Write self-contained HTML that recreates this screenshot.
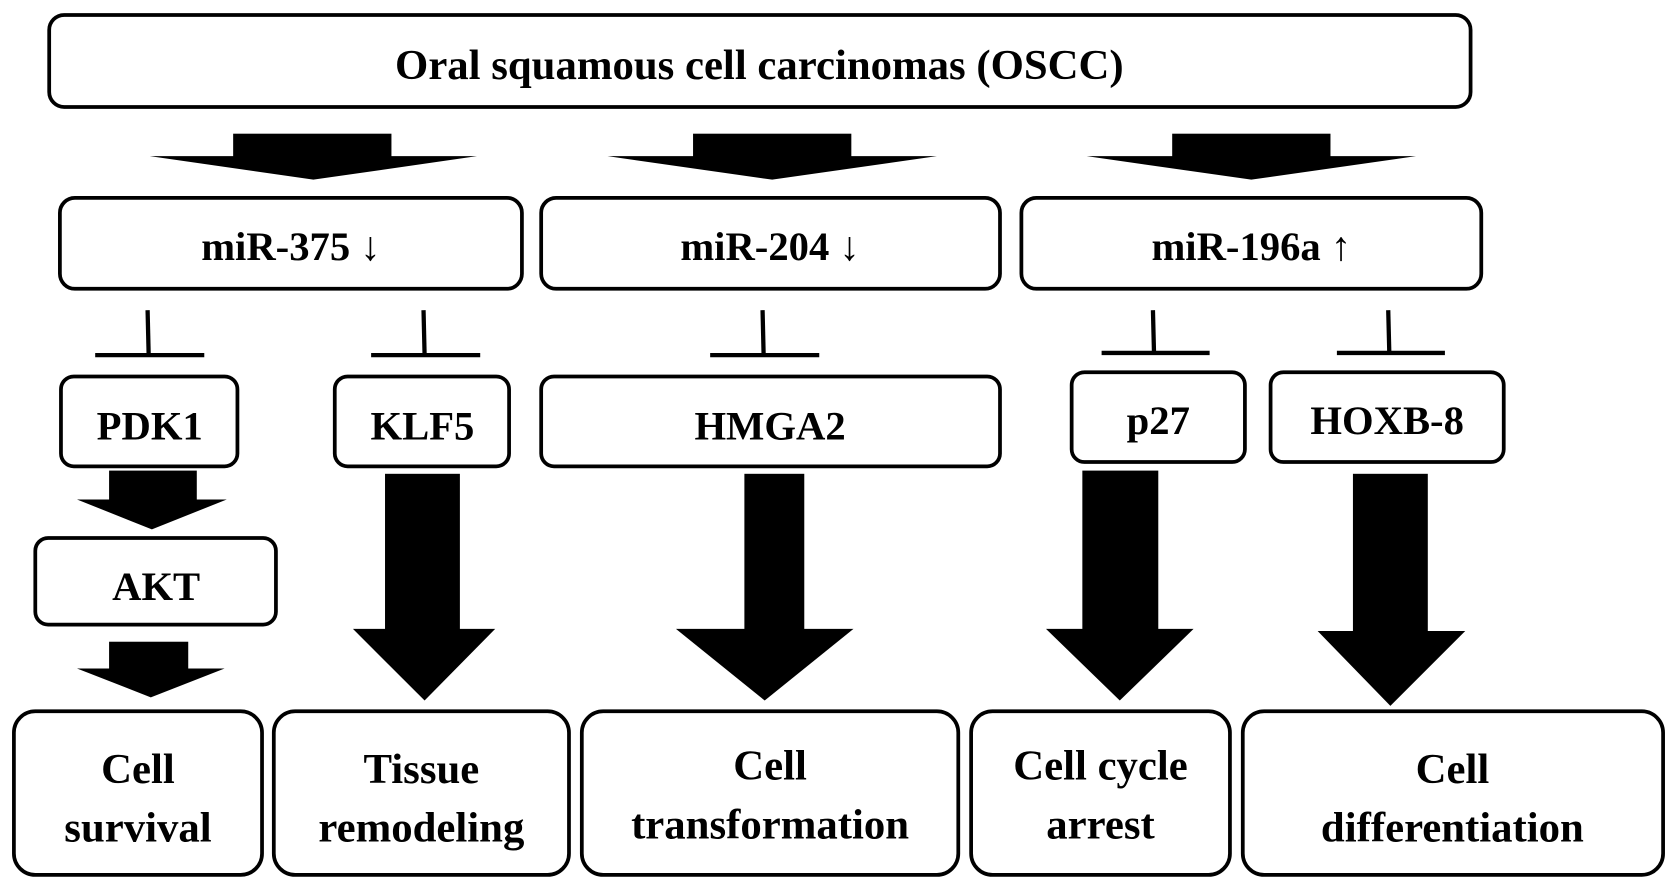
<!DOCTYPE html>
<html><head><meta charset="utf-8"><style>
html,body{margin:0;padding:0;background:#fff;width:1677px;height:892px;overflow:hidden}
svg{display:block}
text{font-family:"Liberation Serif",serif;font-weight:bold;fill:#000;text-anchor:middle}
.b{fill:#fff;stroke:#000;stroke-width:3.5}
</style></head><body>
<svg width="1677" height="892" viewBox="0 0 1568 834" preserveAspectRatio="none">
<rect class="b" x="46" y="14" width="1329" height="86" rx="14"/>
<text x="710" y="74" font-size="40">Oral squamous cell carcinomas (OSCC)</text>
<!-- top arrows -->
<g fill="#000">
<rect x="218" y="125" width="148" height="22"/><polygon points="140,146 446,146 293,168"/>
<rect x="648" y="125" width="148" height="22"/><polygon points="568,146 876,146 722,168"/>
<rect x="1096" y="125" width="148" height="22"/><polygon points="1016,146 1324,146 1170,168"/>
</g>
<rect class="b" x="56" y="185" width="432" height="85" rx="14"/>
<rect class="b" x="506" y="185" width="429" height="85" rx="14"/>
<rect class="b" x="955" y="185" width="430" height="85" rx="14"/>
<text x="272" y="243" font-size="38">miR-375 <tspan font-weight="normal">↓</tspan></text>
<text x="720" y="243" font-size="38">miR-204 <tspan font-weight="normal">↓</tspan></text>
<text x="1170" y="243" font-size="38">miR-196a <tspan font-weight="normal">↑</tspan></text>
<!-- inhibitors -->
<g stroke="#000" stroke-width="4">
<line x1="138" y1="290" x2="139" y2="332"/><line x1="89" y1="332" x2="191" y2="332"/>
<line x1="396" y1="290" x2="397" y2="332"/><line x1="347" y1="332" x2="449" y2="332"/>
<line x1="713" y1="290" x2="714" y2="332"/><line x1="664" y1="332" x2="766" y2="332"/>
<line x1="1078" y1="290" x2="1079" y2="330"/><line x1="1030" y1="330" x2="1131" y2="330"/>
<line x1="1298" y1="290" x2="1299" y2="330"/><line x1="1250" y1="330" x2="1351" y2="330"/>
</g>
<rect class="b" x="57" y="352" width="165" height="84" rx="12"/>
<rect class="b" x="313" y="352" width="163" height="84" rx="12"/>
<rect class="b" x="506" y="352" width="429" height="84" rx="12"/>
<rect class="b" x="1002" y="348" width="162" height="84" rx="12"/>
<rect class="b" x="1188" y="348" width="218" height="84" rx="12"/>
<text x="140" y="411" font-size="38">PDK1</text>
<text x="395" y="411" font-size="38">KLF5</text>
<text x="720" y="411" font-size="38">HMGA2</text>
<text x="1083" y="406" font-size="38">p27</text>
<text x="1297" y="406" font-size="38">HOXB-8</text>
<g fill="#000">
<rect x="102" y="440" width="82" height="28"/><polygon points="72,467 212,467 142,495"/>
<rect x="102" y="600" width="74" height="26"/><polygon points="72,625 210,625 141,652"/>
<rect x="360" y="443" width="70" height="146"/><polygon points="330,588 463,588 397,655"/>
<rect x="696" y="443" width="56" height="146"/><polygon points="632,588 798,588 715,655"/>
<rect x="1012" y="440" width="71" height="149"/><polygon points="978,588 1116,588 1047,655"/>
<rect x="1265" y="443" width="70" height="148"/><polygon points="1232,590 1370,590 1300,660"/>
</g>
<rect class="b" x="33" y="503" width="225" height="81" rx="12"/>
<text x="146" y="561" font-size="38">AKT</text>
<rect class="b" x="13" y="665" width="232" height="153" rx="20"/>
<rect class="b" x="256" y="665" width="276" height="153" rx="20"/>
<rect class="b" x="544" y="665" width="352" height="153" rx="20"/>
<rect class="b" x="908" y="665" width="242" height="153" rx="20"/>
<rect class="b" x="1162" y="665" width="393" height="153" rx="20"/>
<g font-size="40">
<text x="129" y="732">Cell</text><text x="129" y="787">survival</text>
<text x="394" y="732">Tissue</text><text x="394" y="787">remodeling</text>
<text x="720" y="729">Cell</text><text x="720" y="784">transformation</text>
<text x="1029" y="729">Cell cycle</text><text x="1029" y="784">arrest</text>
<text x="1358" y="732">Cell</text><text x="1358" y="787">differentiation</text>
</g>
</svg>
</body></html>
